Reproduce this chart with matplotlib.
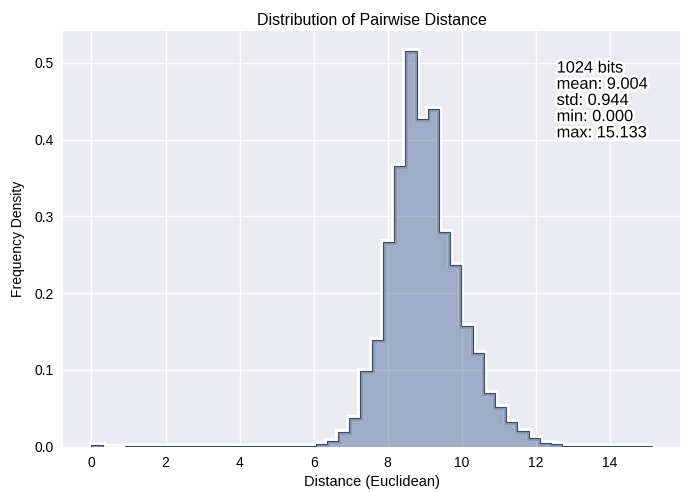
import numpy as np
import matplotlib
matplotlib.use("Agg")
import matplotlib.pyplot as plt
import matplotlib.patheffects as pe

# ---- data ----
bin_min = 0.0
bin_max = 15.133
n_bins = 50
densities = [
    0.002, 0.0, 0.0, 0.0005, 0.0005, 0.0005, 0.0005, 0.0005, 0.0005, 0.0005,
    0.0005, 0.0005, 0.0005, 0.0005, 0.0005, 0.0005, 0.0005, 0.0005, 0.0005, 0.0005,
    0.003, 0.007, 0.019, 0.038, 0.099, 0.139, 0.267, 0.366, 0.515, 0.427,
    0.440, 0.280, 0.237, 0.157, 0.122, 0.070, 0.052, 0.032, 0.021, 0.011,
    0.005, 0.003, 0.0015, 0.001, 0.0005, 0.0005, 0.0005, 0.0005, 0.0005, 0.0005,
]
stats_lines = ["1024 bits", "mean: 9.004", "std: 0.944", "min: 0.000", "max: 15.133"]
title = "Distribution of Pairwise Distance"
xlabel = "Distance (Euclidean)"
ylabel = "Frequency Density"

plt.rcParams['font.family'] = ['Liberation Sans', 'DejaVu Sans']
edges = np.linspace(bin_min, bin_max, n_bins + 1)
vals = np.array(densities)

fig = plt.figure(figsize=(6.82, 4.92), dpi=100)
ax = fig.add_axes([0.093, 0.092, 0.904, 0.844])
ax.set_facecolor('#EAEAF2')
for s in ax.spines.values():
    s.set_visible(False)
ax.grid(True, color='white', linewidth=1.0)
ax.set_axisbelow(True)

# white outer glow
ax.stairs(vals, edges, color='white', linewidth=4.5, alpha=0.95, zorder=1.5)
fill = ax.stairs(vals, edges, fill=True, color='#5470a0', alpha=0.5, zorder=2, linewidth=0)
inner = ax.stairs(vals, edges, color='#1f2d4a', linewidth=3.5, alpha=0.22, zorder=2.2)
inner.set_clip_path(fill)
ax.stairs(vals, edges, color='#3c4a68', linewidth=0.8, zorder=2.5)

ax.set_xlim(bin_min - 0.05 * (bin_max - bin_min), bin_max + 0.05 * (bin_max - bin_min))
ax.set_ylim(0, max(densities) * 1.05)
ax.set_xticks(np.arange(0, 15, 2))
ax.set_yticks(np.arange(0, 0.51, 0.1))
ax.yaxis.set_major_formatter(matplotlib.ticker.FormatStrFormatter('%.1f'))
ax.tick_params(length=0, labelsize=10, pad=7)

ax.set_title(title, fontsize=11.5, pad=5)
ax.set_xlabel(xlabel, fontsize=10.5, labelpad=3)
ax.set_ylabel(ylabel, fontsize=10, labelpad=7)

ax.text(0.80, 0.93, "\n".join(stats_lines), transform=ax.transAxes,
        va='top', ha='left', fontsize=11.8, linespacing=1.1, zorder=5,
        path_effects=[pe.withStroke(linewidth=4, foreground='white')])

fig.savefig('out.png', dpi=100)
